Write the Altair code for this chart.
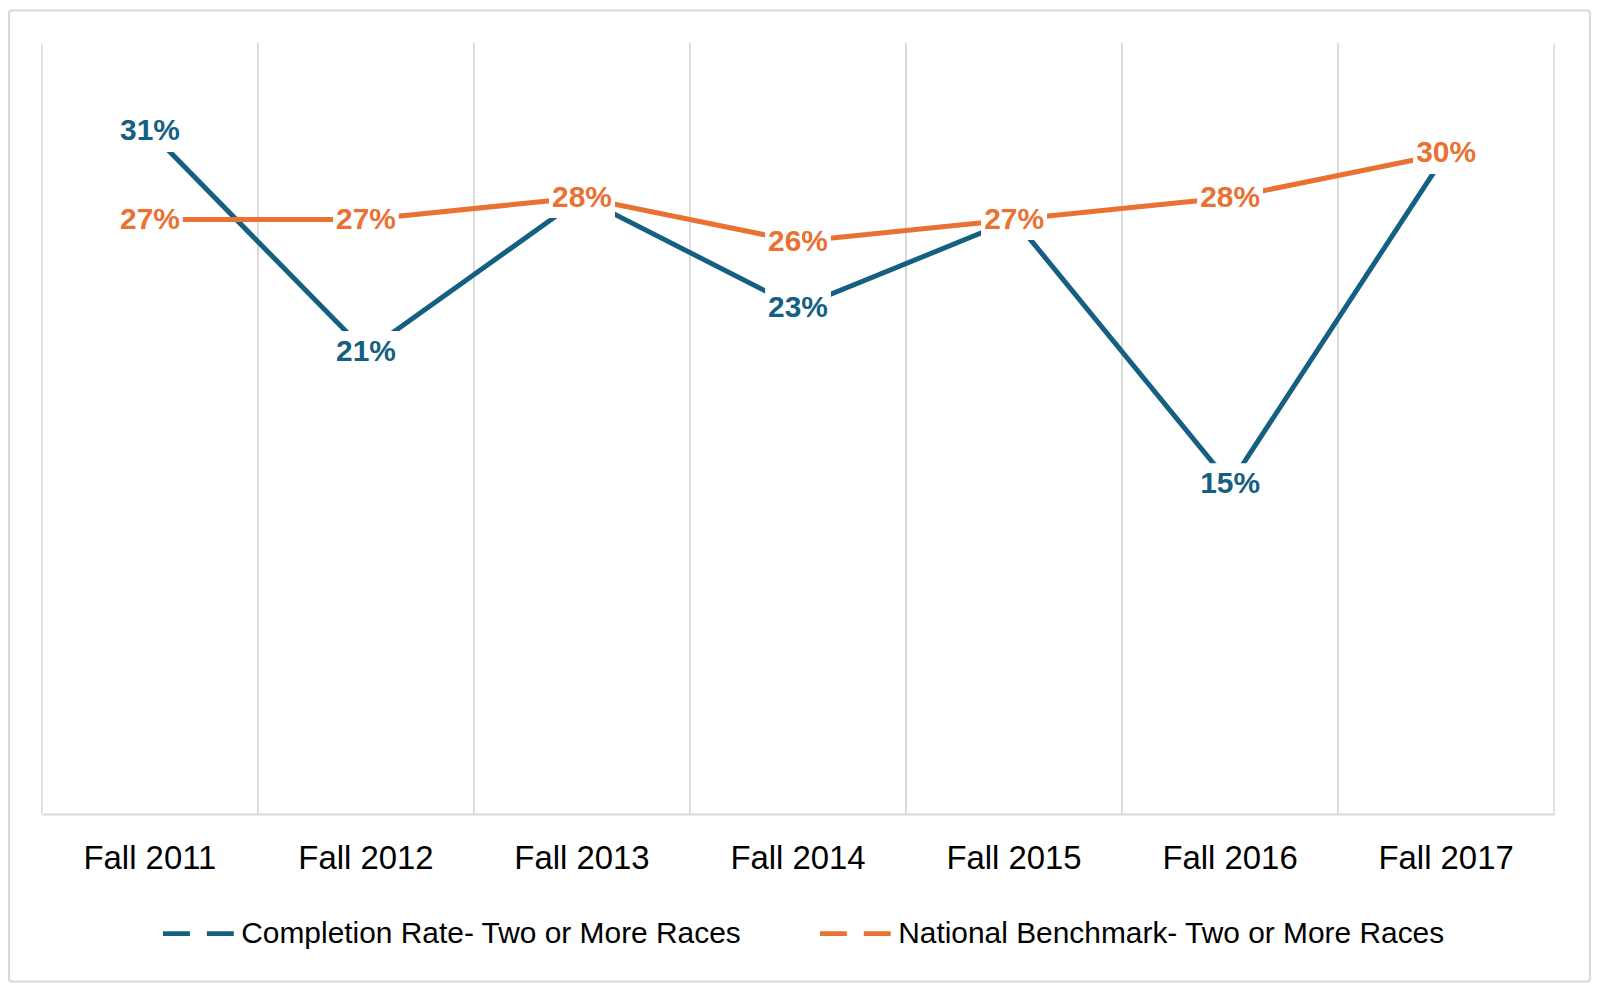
import altair as alt
import pandas as pd

categories = ["Fall 2011", "Fall 2012", "Fall 2013", "Fall 2014", "Fall 2015", "Fall 2016", "Fall 2017"]
completion = [0.31, 0.21, 0.28, 0.23, 0.27, 0.15, 0.30]
benchmark = [0.27, 0.27, 0.28, 0.26, 0.27, 0.28, 0.30]
series_names = ["Completion Rate- Two or More Races", "National Benchmark- Two or More Races"]
colors = ["#156082", "#E97132"]

rows = []
for i, c in enumerate(categories):
    rows.append({"term": c, "series": series_names[0], "value": completion[i], "order": i})
    rows.append({"term": c, "series": series_names[1], "value": benchmark[i], "order": i})
df = pd.DataFrame(rows)
grid_df = pd.DataFrame({"term": categories})
one_df = pd.DataFrame({"a": [0]})

W, H = 1517, 773
FONT = "Liberation Sans"
GRID = "#d9d9d9"

x_scale = alt.Scale(domain=categories, paddingInner=0, paddingOuter=0)
y_scale = alt.Scale(domain=[0, 0.35])
color_scale = alt.Scale(domain=series_names, range=colors)
x_axis = alt.Axis(title=None, labelAngle=0, labelFont=FONT, labelFontSize=33, labelColor="#000000",
                  labelPadding=29, ticks=False, grid=False, domainColor=GRID, domainWidth=2)

border = alt.Chart(one_df).mark_rect(fillOpacity=0, stroke=GRID, strokeWidth=2, cornerRadius=3).encode(
    x=alt.value(-33), x2=alt.value(1553), y=alt.value(-33), y2=alt.value(941))

grid_l = alt.Chart(grid_df).mark_rule(color=GRID, strokeWidth=1.5).encode(
    x=alt.X("term:N", scale=x_scale, bandPosition=0, axis=x_axis),
    y=alt.value(0), y2=alt.value(H))
grid_r = alt.Chart(grid_df).mark_rule(color=GRID, strokeWidth=1.5).encode(
    x=alt.X("term:N", scale=x_scale, bandPosition=1, axis=x_axis),
    y=alt.value(0), y2=alt.value(H))

lines = alt.Chart(df).mark_line(strokeWidth=5).encode(
    x=alt.X("term:N", scale=x_scale, axis=x_axis),
    y=alt.Y("value:Q", scale=y_scale, axis=None),
    color=alt.Color("series:N", scale=color_scale, legend=alt.Legend(
        title=None, orient="none", legendX=119, legendY=855, direction="horizontal",
        symbolType="stroke", symbolStrokeWidth=5, symbolSize=5041, symbolDash=[27, 17],
        labelFont=FONT, labelFontSize=30, labelColor="#000000", labelLimit=1000,
        columnPadding=68, labelOffset=5)),
    detail="series:N",
    order="order:Q")

box_shape = "M-1,-0.625L1,-0.625L1,0.625L-1,0.625Z"

def label_layers(name, col):
    sub = alt.Chart(df).transform_filter(alt.datum.series == name)
    box = sub.mark_point(shape=box_shape, filled=True, color="white", opacity=1, size=4356, strokeWidth=0).encode(
        x=alt.X("term:N", scale=x_scale, axis=x_axis),
        y=alt.Y("value:Q", scale=y_scale, axis=None))
    txt = sub.mark_text(font=FONT, fontSize=30, fontWeight="bold", color=col, baseline="middle", align="center").encode(
        x=alt.X("term:N", scale=x_scale, axis=x_axis),
        y=alt.Y("value:Q", scale=y_scale, axis=None),
        text=alt.Text("value:Q", format=".0%"))
    return [box, txt]

layers = [border, grid_l, grid_r, lines] + label_layers(series_names[0], colors[0]) + label_layers(series_names[1], colors[1])

chart = alt.layer(*layers).properties(
    width=W, height=H,
    padding={"left": 34, "top": 34, "right": 38, "bottom": 170},
    autosize=alt.AutoSizeParams(type="none"),
    background="white",
).configure_view(stroke=None)

chart.save("out.html", embed_options={"renderer": "svg", "actions": False})
